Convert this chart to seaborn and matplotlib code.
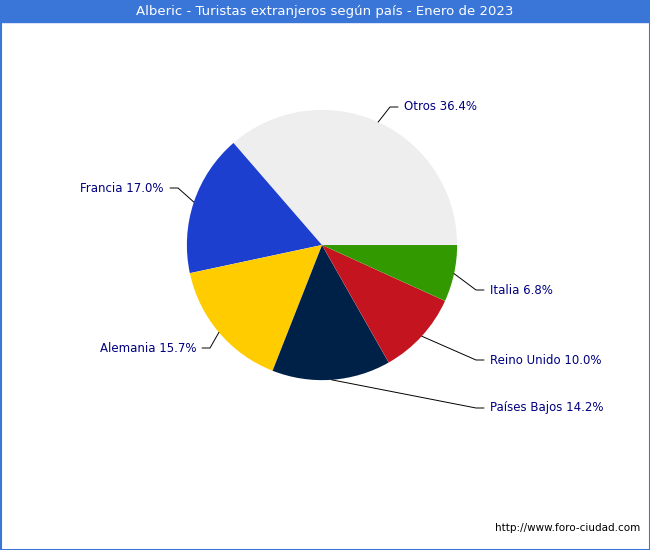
import matplotlib
matplotlib.use("Agg")
import matplotlib.pyplot as plt
import seaborn as sns
import numpy as np

sns.set_theme(style="white")
plt.rcParams['font.family'] = ['DejaVu Sans']

countries = ["Otros", "Francia", "Alemania", "Países Bajos", "Reino Unido", "Italia"]
shares = [36.4, 17.0, 15.7, 14.2, 10.0, 6.8]
colors = ["#eeeeee", "#1c3fcf", "#ffcc00", "#002147", "#c31420", "#339900"]

fig = plt.figure(figsize=(6.5, 5.5), dpi=100)
ax = fig.add_axes([0, 0, 1, 1])
ax.set_xlim(0, 650); ax.set_ylim(0, 550); ax.set_aspect('equal'); ax.axis('off')

cx, cy, R, ex = 322, 305, 135, 0.13
wedges, _ = ax.pie(shares, colors=colors, startangle=0, counterclock=True,
                   explode=[ex]*len(shares), radius=R, center=(cx, cy),
                   wedgeprops=dict(linewidth=0))
ax.set_xlim(0, 650); ax.set_ylim(0, 550)

# text anchor positions (pixels, y from top) and alignment
txt = [(404, 107, 'left'), (164, 188, 'right'), (196, 348, 'right'),
       (490, 408, 'left'), (490, 360, 'left'), (490, 290, 'left')]
for w, name, s, (tx, ty, ha) in zip(wedges, countries, shares, txt):
    a = np.deg2rad((w.theta1 + w.theta2) / 2)
    ox, oy = w.center
    px, py = ox + R*np.cos(a), oy + R*np.sin(a)
    ty2 = 550 - ty
    ex2 = tx - 6 if ha == 'left' else tx + 6
    ax.plot([px, ex2 - (8 if ha == 'left' else -8), ex2], [py, ty2, ty2],
            color='black', lw=0.7)
    ax.text(tx, ty2, f"{name} {s:.1f}%", ha=ha, va='center', fontsize=8.5, color='#000080')

# title bar and border
ax.add_patch(plt.Rectangle((0, 528), 650, 22, color='#3a75d8', zorder=5))
ax.text(325, 539, "Alberic - Turistas extranjeros según país - Enero de 2023",
        ha='center', va='center', color='white', fontsize=9.5, zorder=6)
ax.add_patch(plt.Rectangle((0.5, 0.5), 649, 549, fill=False, ec='#3a75d8', lw=1.5, zorder=6))
ax.text(640, 22, "http://www.foro-ciudad.com", ha='right', va='center', fontsize=7.5, color='black')

fig.savefig("out.png", dpi=100)
